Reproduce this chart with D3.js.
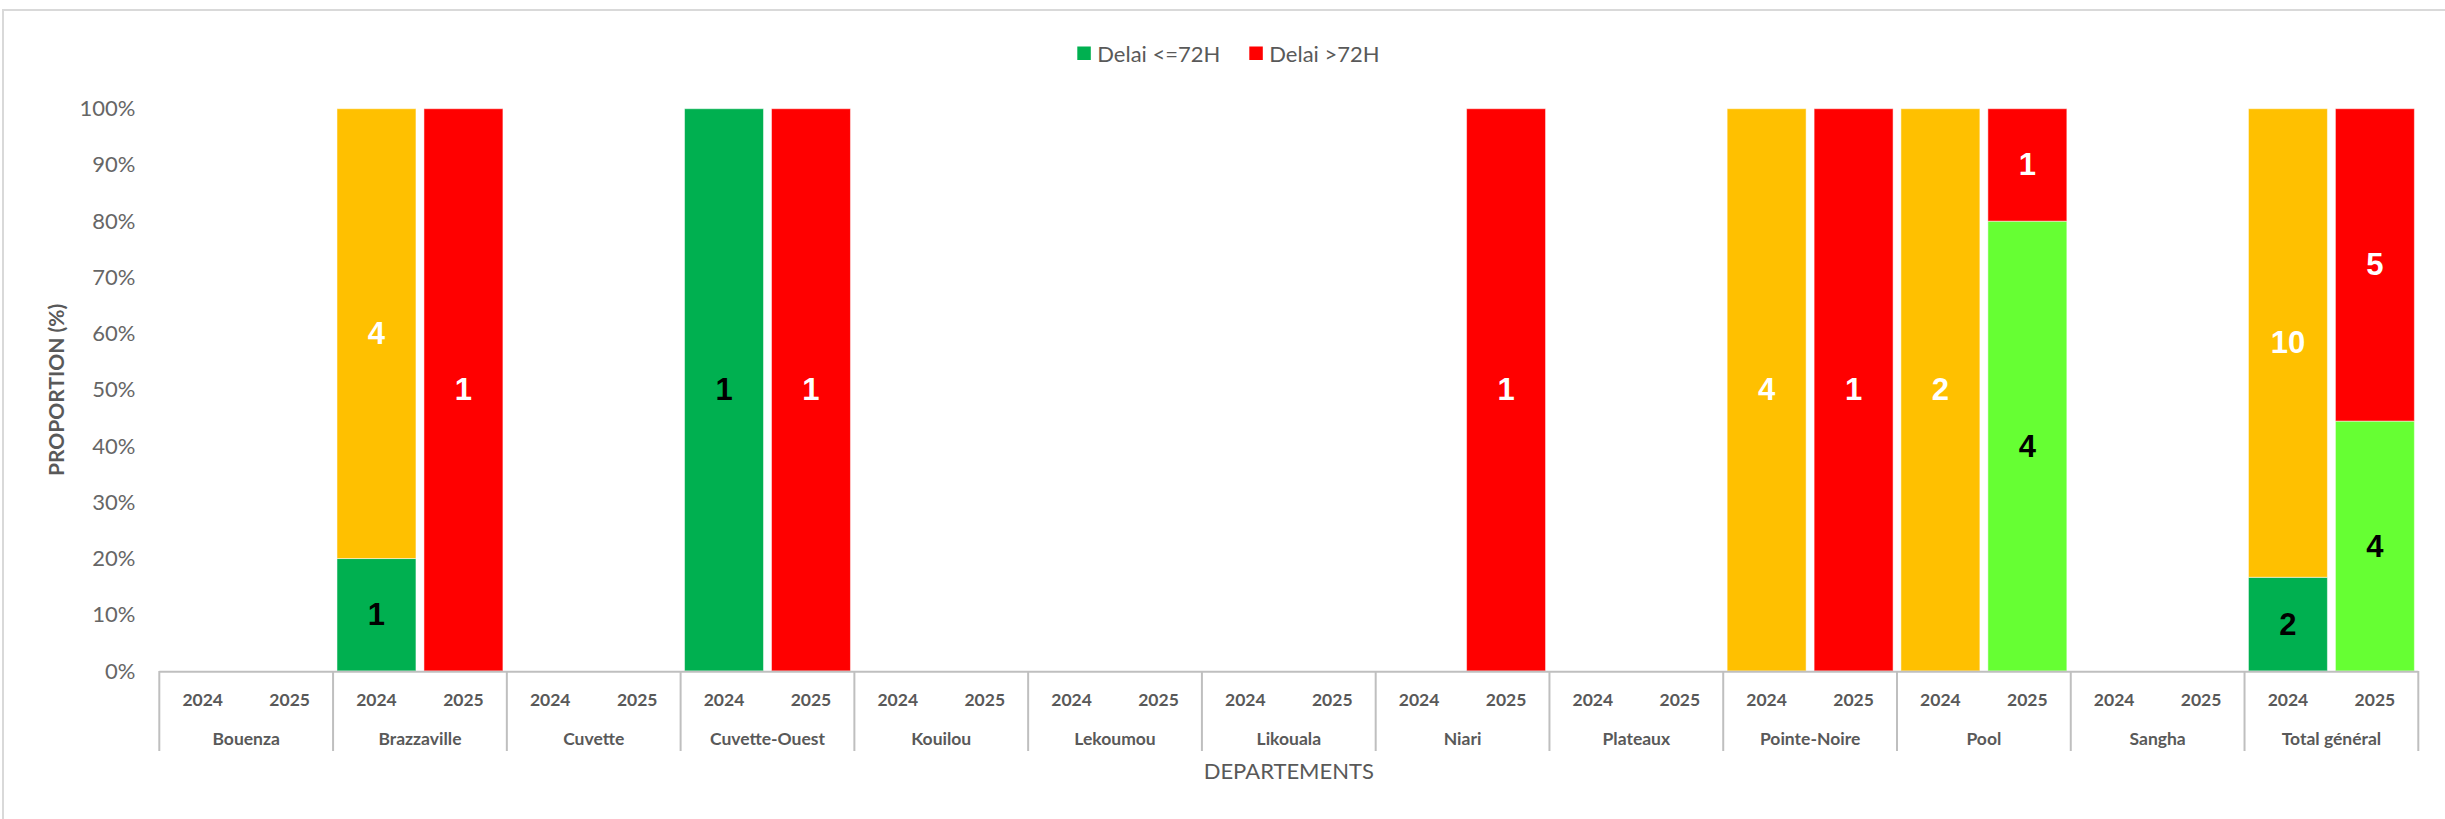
<!DOCTYPE html>
<html><head><meta charset="utf-8">
<script src="https://cdn.jsdelivr.net/npm/d3@7"></script>
<style>body{margin:0;background:#fff;overflow:hidden}</style>
</head><body><svg id="c" width="2445" height="819"></svg>
<script>
const departments = ["Bouenza","Brazzaville","Cuvette","Cuvette-Ouest","Kouilou","Lekoumou","Likouala","Niari","Plateaux","Pointe-Noire","Pool","Sangha","Total général"];
const years = ["2024","2025"];
const seriesNames = ["Delai <=72H","Delai >72H"];
const le72_2024 = [0,1,0,1,0,0,0,0,0,0,0,0,2];
const gt72_2024 = [0,4,0,0,0,0,0,0,0,4,2,0,10];
const le72_2025 = [0,0,0,0,0,0,0,0,0,0,4,0,4];
const gt72_2025 = [0,1,0,1,0,0,0,1,0,1,1,0,5];
const yTicks = [0,0.1,0.2,0.3,0.4,0.5,0.6,0.7,0.8,0.9,1];

const legendColors = {"Delai <=72H":"#00B050","Delai >72H":"#FF0000"};
const segColors = {"2024":{le:"#00B050",gt:"#FFC000"},"2025":{le:"#66FF33",gt:"#FF0000"}};
const labelColors = {le:"#000",gt:"#fff"};

const svg = d3.select("#c");
const W = 2445, H = 819;
const m = {left:159.3, right:2418.3, top:108.7, bottom:671};

svg.append("rect").attr("x",0).attr("y",0).attr("width",W).attr("height",H).attr("fill","#fff");
svg.append("rect").attr("x",3).attr("y",10).attr("width",W+10).attr("height",H+10)
  .attr("fill","none").attr("stroke","#d9d9d9").attr("stroke-width",2);

const x0 = d3.scaleBand().domain(departments).range([m.left,m.right]).padding(0);
const x1 = d3.scaleBand().domain(years).range([0,x0.bandwidth()]).paddingInner(0.092).paddingOuter(0.045);
const y = d3.scaleLinear().domain([0,1]).range([m.bottom,m.top]);

// y axis labels
const yAxis = d3.axisLeft(y).tickValues(yTicks).tickFormat(d3.format(".0%")).tickSize(0).tickPadding(24);
const ya = svg.append("g").attr("transform",`translate(${m.left},0)`).call(yAxis);
ya.select(".domain").remove();
ya.selectAll("text").attr("font-family","Lato, 'Open Sans', sans-serif").attr("font-size",22).attr("fill","#666");

// data
const rows = [];
departments.forEach((d,i)=>{
  const yv = {"2024":[le72_2024[i],gt72_2024[i]],"2025":[le72_2025[i],gt72_2025[i]]};
  years.forEach(yr=>{
    const [le,gt] = yv[yr];
    const tot = le+gt;
    if(tot===0) return;
    rows.push({dept:d,year:yr,key:"le",v:le,y0:0,y1:le/tot});
    rows.push({dept:d,year:yr,key:"gt",v:gt,y0:le/tot,y1:1});
  });
});
const segs = rows.filter(r=>r.v>0);

svg.append("g").selectAll("rect").data(segs).join("rect")
  .attr("x",d=>x0(d.dept)+x1(d.year))
  .attr("width",x1.bandwidth())
  .attr("y",d=>y(d.y1))
  .attr("height",d=>y(d.y0)-y(d.y1))
  .attr("fill",d=>segColors[d.year][d.key])
  .attr("stroke","#fff").attr("stroke-opacity",0.5).attr("stroke-width",1);

svg.append("g").selectAll("text").data(segs).join("text")
  .attr("x",d=>x0(d.dept)+x1(d.year)+x1.bandwidth()/2)
  .attr("y",d=>y((d.y0+d.y1)/2))
  .attr("text-anchor","middle").attr("dominant-baseline","central")
  .attr("font-family","'Liberation Sans', Arial, sans-serif").attr("font-weight","bold").attr("font-size",31)
  .attr("fill",d=>labelColors[d.key])
  .text(d=>d.v);

// x axis line + separators
const ax = svg.append("g");
ax.append("line").attr("x1",m.left).attr("x2",m.right).attr("y1",m.bottom+0.7).attr("y2",m.bottom+0.7)
  .attr("stroke","#bfbfbf").attr("stroke-width",2);
const seps = departments.map(d=>x0(d)).concat([m.right]);
ax.selectAll("line.sep").data(seps).join("line").attr("class","sep")
  .attr("x1",d=>d).attr("x2",d=>d).attr("y1",m.bottom).attr("y2",751)
  .attr("stroke","#bfbfbf").attr("stroke-width",2);

// year labels
const yl = [];
departments.forEach(d=>years.forEach(yr=>yl.push({d,yr})));
ax.selectAll("text.yr").data(yl).join("text").attr("class","yr")
  .attr("x",e=>x0(e.d)+x1(e.yr)+x1.bandwidth()/2).attr("y",699)
  .attr("text-anchor","middle").attr("dominant-baseline","central")
  .attr("font-family","Lato, sans-serif").attr("font-weight","bold").attr("font-size",17.5).attr("fill","#595959")
  .text(e=>e.yr);
ax.selectAll("text.dep").data(departments).join("text").attr("class","dep")
  .attr("x",d=>x0(d)+x0.bandwidth()/2).attr("y",738)
  .attr("text-anchor","middle").attr("dominant-baseline","central")
  .attr("font-family","Lato, sans-serif").attr("font-weight","bold").attr("font-size",17.5).attr("fill","#595959")
  .text(d=>d);

// axis titles
svg.append("text").attr("x",(m.left+m.right)/2).attr("y",770)
  .attr("text-anchor","middle").attr("dominant-baseline","central")
  .attr("font-family","Lato, sans-serif").attr("font-size",22).attr("fill","#595959").text("DEPARTEMENTS");
svg.append("text").attr("transform",`translate(55,${(m.top+m.bottom)/2}) rotate(-90)`)
  .attr("text-anchor","middle").attr("dominant-baseline","central")
  .attr("font-family","Lato, sans-serif").attr("font-weight","bold").attr("font-size",21).attr("fill","#595959").text("PROPORTION (%)");

// legend
const lg = svg.append("g");
const legX = [1077.3, 1249.3];
seriesNames.forEach((s,i)=>{
  lg.append("rect").attr("x",legX[i]).attr("y",46.5).attr("width",13.5).attr("height",13.5).attr("fill",legendColors[s]);
  lg.append("text").attr("x",legX[i]+20).attr("y",53.5).attr("dominant-baseline","central")
    .attr("font-family","Lato, sans-serif").attr("font-size",22).attr("fill","#595959").text(s);
});
</script></body></html>
